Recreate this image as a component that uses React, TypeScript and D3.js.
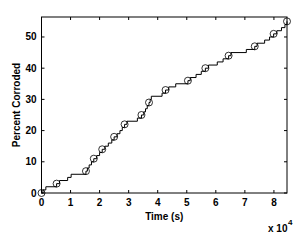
import React, { useEffect, useRef } from "react";
import * as d3 from "d3";

// time (x 10^4 s) at which the corroded percentage steps up to index+1
const stepTimes = [
  0.05, 0.15, 0.52, 0.62, 0.9, 1.02, 1.53, 1.58, 1.64, 1.72, 1.8, 1.9, 2.0, 2.09,
  2.18, 2.3, 2.42, 2.5, 2.6, 2.7, 2.78, 2.86, 2.94, 3.3, 3.44, 3.52, 3.58, 3.64,
  3.7, 3.74, 3.78, 4.15, 4.27, 4.38, 4.62, 5.04, 5.12, 5.32, 5.5, 5.64, 5.75,
  6.05, 6.25, 6.44, 6.52, 7.05, 7.34, 7.42, 7.68, 7.85, 7.99, 8.1, 8.26, 8.38, 8.45,
];
const markerTimes = [0, 0.52, 1.53, 1.8, 2.09, 2.5, 2.86, 3.44, 3.7, 4.27, 5.04, 5.64, 6.44, 7.34, 7.99, 8.45];
const markerValues = [0, 3, 7, 11, 14, 18, 22, 25, 29, 33, 36, 40, 44, 47, 51, 55];
const xTicks = [0, 1, 2, 3, 4, 5, 6, 7, 8];
const yTicks = [0, 10, 20, 30, 40, 50];

const App = () => {
  const svgRef = useRef<SVGSVGElement>(null);

  useEffect(() => {
    const svg = d3.select(svgRef.current);
    svg.selectAll("*").remove();

    const width = 307;
    const height = 240;
    const margin = { top: 17, right: 20, bottom: 47, left: 41.5 };
    const font = "Liberation Sans, Arial, sans-serif";

    const x = d3.scaleLinear().domain([0, 8.45]).range([margin.left, width - margin.right]);
    const y = d3.scaleLinear().domain([0, 56.4]).range([height - margin.bottom, margin.top]);

    const steps: [number, number][] = [[0, 0]];
    stepTimes.forEach((t, i) => steps.push([t, i + 1]));

    const line = d3
      .line<[number, number]>()
      .x((d) => x(d[0]))
      .y((d) => y(d[1]))
      .curve(d3.curveStepAfter);

    const g = svg.append("g");

    g.append("path")
      .attr("d", line(steps))
      .attr("fill", "none")
      .attr("stroke", "#000")
      .attr("stroke-width", 1);

    g.selectAll("circle")
      .data(markerTimes)
      .join("circle")
      .attr("cx", (d) => x(d))
      .attr("cy", (d, i) => y(markerValues[i]))
      .attr("r", 3.5)
      .attr("fill", "none")
      .attr("stroke", "#000")
      .attr("stroke-width", 0.8);

    // frame
    const [x0, x1] = x.range();
    const [y0, y1] = y.range();
    g.append("rect")
      .attr("x", x0)
      .attr("y", y1)
      .attr("width", x1 - x0)
      .attr("height", y0 - y1)
      .attr("fill", "none")
      .attr("stroke", "#000")
      .attr("stroke-width", 1);

    const tl = 3;
    // x ticks bottom and top
    xTicks.forEach((t) => {
      g.append("line").attr("x1", x(t)).attr("x2", x(t)).attr("y1", y0).attr("y2", y0 - tl).attr("stroke", "#000");
      g.append("line").attr("x1", x(t)).attr("x2", x(t)).attr("y1", y1).attr("y2", y1 + tl).attr("stroke", "#000");
      g.append("text")
        .attr("x", x(t))
        .attr("y", y0 + 13)
        .attr("text-anchor", "middle")
        .style("font-family", font)
        .style("font-size", "10px")
        .style("font-weight", "bold")
        .text(t);
    });
    yTicks.forEach((t) => {
      g.append("line").attr("x1", x0).attr("x2", x0 + tl).attr("y1", y(t)).attr("y2", y(t)).attr("stroke", "#000");
      g.append("line").attr("x1", x1).attr("x2", x1 - tl).attr("y1", y(t)).attr("y2", y(t)).attr("stroke", "#000");
      g.append("text")
        .attr("x", x0 - 5)
        .attr("y", y(t) + 3.5)
        .attr("text-anchor", "end")
        .style("font-family", font)
        .style("font-size", "10px")
        .style("font-weight", "bold")
        .text(t);
    });

    g.append("text")
      .attr("x", (x0 + x1) / 2)
      .attr("y", y0 + 27)
      .attr("text-anchor", "middle")
      .style("font-family", font)
      .style("font-size", "10px")
      .style("font-weight", "bold")
      .text("Time (s)");

    g.append("text")
      .attr("transform", `translate(20,${(y0 + y1) / 2}) rotate(-90)`)
      .attr("text-anchor", "middle")
      .style("font-family", font)
      .style("font-size", "10px")
      .style("font-weight", "bold")
      .text("Percent Corroded");

    g.append("text")
      .attr("x", 268)
      .attr("y", 232)
      .style("font-family", font)
      .style("font-size", "10px")
      .style("font-weight", "bold")
      .text("x 10");
    g.append("text")
      .attr("x", 288)
      .attr("y", 225)
      .style("font-family", font)
      .style("font-size", "8px")
      .style("font-weight", "bold")
      .text("4");
  }, []);

  return (
    <div style={{ width: 307, height: 240, margin: -8 }}>
      <svg ref={svgRef} width={307} height={240} style={{ display: "block" }}></svg>
    </div>
  );
};

export default App;
